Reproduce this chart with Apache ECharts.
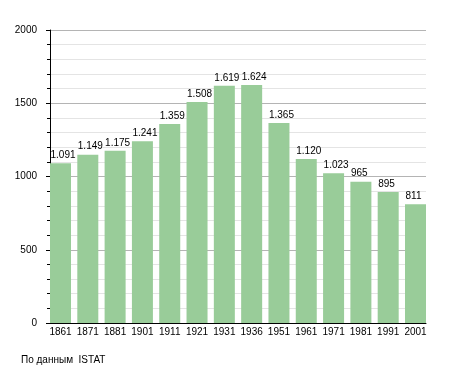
<!DOCTYPE html>
<html>
<head>
<meta charset="utf-8">
<script src="https://cdn.jsdelivr.net/npm/echarts@6/dist/echarts.min.js"></script>
<style>
html,body{margin:0;padding:0;background:#fff;}
#chart{width:455px;height:373px;}
</style>
</head>
<body>
<div id="chart"></div>
<script>
var years = ['1861','1871','1881','1901','1911','1921','1931','1936','1951','1961','1971','1981','1991','2001'];
var population = [1091,1149,1175,1241,1359,1508,1619,1624,1365,1120,1023,965,895,811];
var yTickValues = [0,500,1000,1500,2000];
var sourceNote = 'По данным  ISTAT';

(function(){
var FONT = '"Liberation Sans", Arial, sans-serif';
function fmt(v){
  var s = String(v);
  if (s.length > 3) s = s.slice(0, s.length-3) + '.' + s.slice(s.length-3);
  return s;
}
var chart = echarts.init(document.getElementById('chart'), null, {renderer:'canvas'});
var plotLeft = 50, plotWidth = 376, barW = 21;
var gap = (plotWidth - years.length*barW)/(years.length-1);
var gTop = 30, gHeight = 293;
chart.setOption({
  animation:false,
  backgroundColor:'#ffffff',
  textStyle:{fontFamily:FONT},
  grid:[
    {left:plotLeft, top:gTop, width:plotWidth, height:gHeight},
    {left:plotLeft-gap/2, top:gTop, width:plotWidth+gap, height:gHeight}
  ],
  xAxis:[
    {gridIndex:0, type:'value', min:0, max:1, axisLine:{show:true, lineStyle:{color:'#000', width:1}},
     axisTick:{show:false}, axisLabel:{show:false}, splitLine:{show:false}},
    {gridIndex:1, type:'category', data:years, axisLine:{show:false}, axisTick:{show:false},
     axisLabel:{color:'#000', fontSize:10, fontFamily:FONT, margin:4, interval:0},
     splitLine:{show:false}}
  ],
  yAxis:[
    {gridIndex:0, type:'value', min:yTickValues[0], max:yTickValues[yTickValues.length-1], interval:500,
     axisLine:{show:true, lineStyle:{color:'#000', width:1}},
     axisTick:{show:true, length:4, lineStyle:{color:'#000'}},
     minorTick:{show:true, splitNumber:5, length:3, lineStyle:{color:'#000'}},
     axisLabel:{color:'#000', fontSize:10, fontFamily:FONT, margin:13,
       formatter:function(v){return String(v);}},
     splitLine:{show:true, lineStyle:{color:'#b4b4b4', width:1}},
     minorSplitLine:{show:true, lineStyle:{color:'#e4e4e4', width:1}}},
    {gridIndex:1, type:'value', min:yTickValues[0], max:yTickValues[yTickValues.length-1], show:false,
     splitLine:{show:false}}
  ],
  series:[{
    type:'bar', xAxisIndex:1, yAxisIndex:1, data:population, barWidth:barW,
    itemStyle:{color:'#99cc99'},
    label:{show:true, position:'top', distance:3, align:'left', offset:[-barW/2 + 0.5, 0],
      color:'#000', fontSize:10, fontFamily:FONT,
      formatter:function(p){return fmt(p.value);}}
  }],
  graphic:[{
    type:'text', left:21, top:355,
    style:{text:sourceNote, fill:'#000', font:'10px ' + FONT}
  }]
});
})();
</script>
</body>
</html>
